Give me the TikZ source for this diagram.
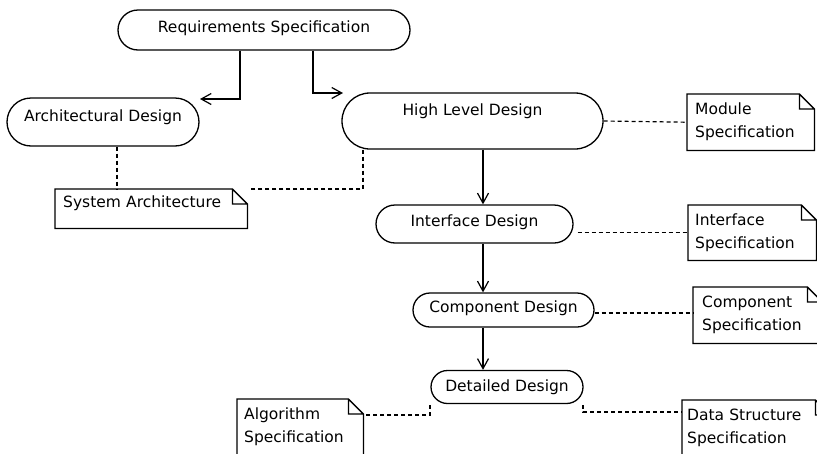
\documentclass[tikz,border=0pt]{standalone}
\usepackage{fontspec}
\setmainfont{DejaVu Sans}
\usetikzlibrary{shapes.misc,arrows.meta}
\newcommand\rz[2]{\raisebox{0pt}[\height][\dimexpr\depth+#1\relax]{#2}}
\begin{document}
\begin{tikzpicture}[x=1pt,y=-1pt,
  every node/.style={font=\fontsize{15.5}{23}\selectfont, text=black},
  stad/.style={draw, rounded rectangle, inner sep=0pt, line width=1.3pt},
  note/.style={anchor=north west, inner xsep=#1, inner ysep=0pt, align=left},
  fold/.style={draw, line width=1.3pt},
  arr/.style={line width=1.2pt, -{Straight Barb[length=10pt,width=11pt]}},
  dsh/.style={line width=1.2pt, dash pattern=on 4pt off 3pt}
]
\useasboundingbox (0,0) rectangle (817,453);
\clip (0,0) rectangle (817,453);
\fill[white] (0,0) rectangle (817,453);

% process nodes
\node[stad, minimum width=292pt, minimum height=40pt] (rs) at (264,30) {\rz{4pt}{Requirements Specification}};
\node[stad, minimum width=192pt, minimum height=48pt] (ad) at (103,122) {\rz{10pt}{Architectural Design}};
\node[stad, minimum width=261pt, minimum height=56pt, align=center] (hld) at (472.5,121) {High Level Design\\ \mbox{}};
\node[stad, minimum width=197pt, minimum height=38pt] (id) at (474.5,224) {\rz{4pt}{Interface Design}};
\node[stad, minimum width=181pt, minimum height=34pt] (cd) at (503.5,310) {\rz{4pt}{Component Design}};
\node[stad, minimum width=152pt, minimum height=33pt] (dd) at (507,387) {Detailed Design};

% notes
\node[note=8pt, text width=176pt, minimum height=39pt] (sa) at (55,189) {\rz{11pt}{System Architecture}};
\node[note=8pt, text width=111pt, minimum height=56pt] (ms) at (687,94) {Module\\Specification};
\node[note=7pt, text width=114pt, minimum height=55pt] (is) at (688,205) {Interface\\Specification};
\node[note=9pt, text width=111pt, minimum height=56pt] (cs) at (693,287) {Component\\Specification};
\node[note=7pt, text width=112pt, minimum height=56pt] (as) at (237,399) {Algorithm\\Specification};
\node[note=5pt, text width=138pt, minimum height=56pt] (ds) at (682,400) {Data Structure\\Specification};

\foreach \n in {sa,ms,is,cs,as,ds}{
  \draw[fold] (\n.north west) -- ([xshift=-15pt]\n.north east) -- ([yshift=-15pt]\n.north east)
    -- (\n.south east) -- (\n.south west) -- cycle
    ([xshift=-15pt]\n.north east) |- ([yshift=-15pt]\n.north east);
}

% arrow ends
\coordinate (col) at (483,0);
\coordinate (adin) at (200,99);
\coordinate (hldin) at (343,93);
\coordinate (dl) at (430,405);
\coordinate (dr) at (583,405);

\draw[arr] ([xshift=-24pt]rs.south) |- (adin);
\draw[arr] ([xshift=49pt]rs.south) |- (hldin);
\draw[arr] (hld.south -| col) -- (id.north -| col);
\draw[arr] (id.south -| col) -- (cd.north -| col);
\draw[arr] (cd.south -| col) -- (dd.north -| col);

% dashed links
\draw[dsh] (ad.south -| 117,0) -- (sa.north -| 117,0);
\draw[dsh] (hld.south -| 363,0) |- ([xshift=1pt]sa.north east);
\draw[dsh] (hld.east) -- (ms.west);
\draw[dsh] ([xshift=4pt]is.west -| id.east) -- (is.west);
\draw[dsh] ([yshift=-3pt]cd.east) -- ([yshift=-3pt]cd.east -| cs.west);
\draw[dsh] (dl) |- ([yshift=-16pt]as.north east);
\draw[dsh] (dr) |- ([yshift=-12pt]ds.north west);
\end{tikzpicture}
\end{document}
